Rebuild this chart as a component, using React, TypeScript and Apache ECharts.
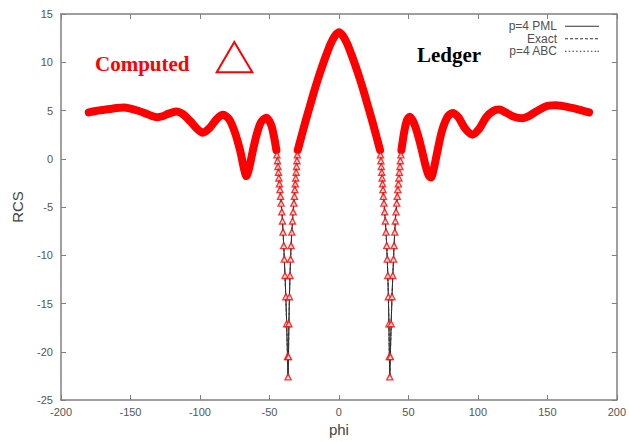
import React, { useEffect, useRef } from "react";
import * as echarts from "echarts";

// ---- data (phi in degrees, RCS in dB) ----
const outerLeftPhi = [-180, -175, -170, -165, -160, -155, -150, -145, -140, -135, -131, -127, -123, -117, -112, -107, -102, -98, -93, -88, -83.4, -79, -75, -71, -68.5, -66.6, -64.5, -62, -59, -56, -52.3, -49, -47, -45];
const outerLeftRcs = [4.8, 4.95, 5.05, 5.15, 5.25, 5.3, 5.2, 5.0, 4.75, 4.45, 4.3, 4.4, 4.65, 4.9, 4.6, 3.9, 3.1, 2.7, 3.2, 4.1, 4.55, 4.1, 2.8, 0.8, -0.9, -1.8, -0.9, 0.8, 2.6, 3.8, 4.25, 3.6, 2.5, 0.9];

const nullLeftOuterPhi = [-44.6, -44.2, -43.9, -43.5, -43.2, -42.8, -42.4, -42.0, -41.6, -41.1, -40.6, -40.2, -39.7, -39.3, -38.8, -38.2, -37.6, -37.0, -36.6];
const nullLeftOuterRcs = [0.4, -0.2, -0.8, -1.4, -2.0, -2.6, -3.2, -3.9, -4.6, -5.5, -6.45, -7.6, -9.0, -10.4, -12.1, -14.3, -17.1, -20.5, -22.6];
const nullLeftInnerPhi = [-29.9, -30.2, -30.5, -30.8, -31.1, -31.4, -31.7, -32.0, -32.4, -32.9, -33.4, -33.9, -34.4, -34.8, -35.2, -35.6, -36.0, -36.3];
const nullLeftInnerRcs = [0.4, -0.2, -0.8, -1.4, -2.0, -2.6, -3.2, -3.9, -4.6, -5.5, -6.45, -7.6, -9.0, -10.4, -12.1, -14.3, -17.1, -20.5];

const lobePhi = [-29.6, -27, -24, -21, -18, -15, -12, -9, -6, -3, 0, 3, 6, 9, 12, 15, 18, 21, 24, 27, 29.6];
const lobeRcs = [0.9, 2.3, 3.9, 5.4, 6.9, 8.3, 9.6, 10.8, 11.9, 12.7, 13.1, 12.7, 11.9, 10.8, 9.6, 8.3, 6.9, 5.4, 3.9, 2.3, 0.9];

const nullRightInnerPhi = [29.9, 30.2, 30.5, 30.8, 31.1, 31.4, 31.7, 32.0, 32.4, 32.9, 33.4, 33.9, 34.4, 34.8, 35.2, 35.6, 36.0, 36.3];
const nullRightInnerRcs = [0.4, -0.2, -0.8, -1.4, -2.0, -2.6, -3.2, -3.9, -4.6, -5.5, -6.45, -7.6, -9.0, -10.4, -12.1, -14.3, -17.1, -20.5];
const nullRightOuterPhi = [36.6, 37.0, 37.6, 38.2, 38.8, 39.3, 39.7, 40.2, 40.6, 41.1, 41.6, 42.0, 42.4, 42.8, 43.2, 43.5, 43.9, 44.2, 44.6];
const nullRightOuterRcs = [-22.6, -20.5, -17.1, -14.3, -12.1, -10.4, -9.0, -7.6, -6.45, -5.5, -4.6, -3.9, -3.2, -2.6, -2.0, -1.4, -0.8, -0.2, 0.4];

const outerRightPhi = [45, 47, 49, 51, 54, 57, 60, 62.5, 64.5, 66.2, 68, 70.5, 74, 78, 81.7, 86, 91, 96.1, 101, 106, 111, 115.3, 120, 126, 132, 137, 142, 147, 151, 156, 160, 165, 170, 175, 180];
const outerRightRcs = [0.9, 2.8, 4.0, 4.35, 3.7, 2.4, 0.7, -0.8, -1.7, -1.95, -1.2, 0.5, 2.8, 4.3, 4.75, 4.3, 3.1, 2.5, 3.1, 4.3, 4.95, 5.1, 4.8, 4.35, 4.2, 4.45, 4.9, 5.3, 5.5, 5.55, 5.5, 5.35, 5.2, 5.0, 4.8];

const legendNames = ["p=4 PML", "Exact", "p=4 ABC"];
const xMin = -200, xMax = 200, xStep = 50;
const yMin = -25, yMax = 15, yStep = 5;

const pairs = (p: number[], r: number[]) => p.map((x, i) => [x, r[i]]);

// legend sample strokes drawn as thin filled bars (solid / dashed / dotted)
const solidIcon = "path://M0,0h34v1h-34z";
const dashedIcon = "path://M0,0h3v1h-3zM5,0h3v1h-3zM10,0h3v1h-3zM15,0h3v1h-3zM20,0h3v1h-3zM25,0h3v1h-3zM30,0h3v1h-3zM34,0h0v1h0z";
const dottedIcon = "path://M0,0h1.5v1h-1.5zM3.7,0h1.5v1h-1.5zM7.4,0h1.5v1h-1.5zM11.1,0h1.5v1h-1.5zM14.8,0h1.5v1h-1.5zM18.5,0h1.5v1h-1.5zM22.2,0h1.5v1h-1.5zM25.9,0h1.5v1h-1.5zM29.6,0h1.5v1h-1.5zM32.5,0h1.5v1h-1.5z";

export default function App() {
  const ref = useRef<HTMLDivElement>(null);
  useEffect(() => {
    document.body.style.margin = "0";
    if (!ref.current) return;
    const chart = echarts.init(ref.current, undefined, { renderer: "svg" });

    const fullPath = [
      ...pairs(outerLeftPhi, outerLeftRcs),
      ...pairs(nullLeftOuterPhi, nullLeftOuterRcs),
      ...pairs(nullLeftInnerPhi, nullLeftInnerRcs).reverse(),
      ...pairs(lobePhi, lobeRcs),
      ...pairs(nullRightInnerPhi, nullRightInnerRcs),
      ...pairs(nullRightOuterPhi, nullRightOuterRcs),
      ...pairs(outerRightPhi, outerRightRcs),
    ];
    const markers = [
      ...pairs(nullLeftOuterPhi, nullLeftOuterRcs),
      ...pairs(nullLeftInnerPhi, nullLeftInnerRcs),
      ...pairs(nullRightInnerPhi, nullRightInnerRcs),
      ...pairs(nullRightOuterPhi, nullRightOuterRcs),
    ];

    const axisColor = "#808080";
    const labelFont = "Liberation Sans";
    const blackLine = (name: string, type: any, color: string) => ({
      name,
      type: "line",
      data: fullPath,
      symbol: "none",
      z: 1,
      lineStyle: { color, width: 1, type },
      itemStyle: { color: "#333" },
    });
    const band = (data: number[][]) => ({
      name: "Computed",
      type: "line",
      data,
      symbol: "none",
      smooth: 0.3,
      z: 3,
      lineStyle: { color: "#ff0000", width: 8, cap: "round" },
    });

    chart.setOption({
      animation: false,
      grid: { left: 61, right: 11, top: 14, bottom: 38, containLabel: false },
      legend: {
        data: [
          { name: legendNames[0], icon: solidIcon },
          { name: legendNames[1], icon: dashedIcon },
          { name: legendNames[2], icon: dottedIcon },
        ],
        orient: "vertical",
        right: 25,
        top: 15,
        align: "right",
        itemWidth: 34,
        itemHeight: 1.2,
        itemGap: 0,
        textStyle: { fontSize: 12, color: "#505050", fontFamily: labelFont, lineHeight: 12.5, padding: [0, 3, 0, 0] },
      },
      xAxis: [
        {
          type: "value", min: xMin, max: xMax, interval: xStep, position: "bottom",
          name: "phi", nameLocation: "middle", nameGap: 22,
          nameTextStyle: { fontSize: 15, color: "#444", fontFamily: labelFont },
          axisLine: { show: true, onZero: false, lineStyle: { color: axisColor, width: 1.5 } },
          axisTick: { show: true, inside: true, length: 5, lineStyle: { color: axisColor } },
          axisLabel: { fontSize: 11, color: "#555", margin: 6, fontFamily: labelFont },
          splitLine: { show: false },
        },
        {
          type: "value", min: xMin, max: xMax, interval: xStep, position: "top",
          axisLine: { show: true, onZero: false, lineStyle: { color: axisColor, width: 1.5 } },
          axisTick: { show: true, inside: true, length: 5, lineStyle: { color: axisColor } },
          axisLabel: { show: false },
          splitLine: { show: false },
        },
      ],
      yAxis: [
        {
          type: "value", min: yMin, max: yMax, interval: yStep, position: "left",
          name: "RCS", nameLocation: "middle", nameGap: 36,
          nameTextStyle: { fontSize: 15, color: "#444", fontFamily: labelFont },
          axisLine: { show: true, onZero: false, lineStyle: { color: axisColor, width: 1.5 } },
          axisTick: { show: true, inside: true, length: 5, lineStyle: { color: axisColor } },
          axisLabel: { fontSize: 11, color: "#555", margin: 8, fontFamily: labelFont },
          splitLine: { show: false },
        },
        {
          type: "value", min: yMin, max: yMax, interval: yStep, position: "right",
          axisLine: { show: true, onZero: false, lineStyle: { color: axisColor, width: 1.5 } },
          axisTick: { show: true, inside: true, length: 5, lineStyle: { color: axisColor } },
          axisLabel: { show: false },
          splitLine: { show: false },
        },
      ],
      graphic: [
        {
          type: "text", x: 95, y: 64,
          style: { text: "Computed", fill: "#ff0000", fontFamily: "Liberation Serif", fontWeight: "bold", fontSize: 21, verticalAlign: "middle", align: "left" },
        },
        {
          type: "polygon",
          shape: { points: [[234.3, 42], [216.7, 72.3], [252.3, 72.3]] },
          style: { fill: "none", stroke: "#ff0000", lineWidth: 2 },
        },
        {
          type: "text", x: 417, y: 55,
          style: { text: "Ledger", fill: "#000", fontFamily: "Liberation Serif", fontWeight: "bold", fontSize: 21, verticalAlign: "middle", align: "left" },
        },
      ],
      series: [
        blackLine("p=4 PML", "solid", "#111"),
        blackLine("Exact", [3, 2], "#333"),
        blackLine("p=4 ABC", [1, 2], "#444"),
        band(pairs(outerLeftPhi, outerLeftRcs)),
        band(pairs(lobePhi, lobeRcs)),
        band(pairs(outerRightPhi, outerRightRcs)),
        {
          name: "Computed markers",
          type: "scatter",
          data: markers,
          symbol: "triangle",
          symbolSize: 6,
          z: 4,
          itemStyle: { color: "#ffffff", borderColor: "#ff0000", borderWidth: 1.4 },
        },
      ],
    });
    return () => chart.dispose();
  }, []);
  return <div ref={ref} style={{ width: 629, height: 442 }} />;
}
